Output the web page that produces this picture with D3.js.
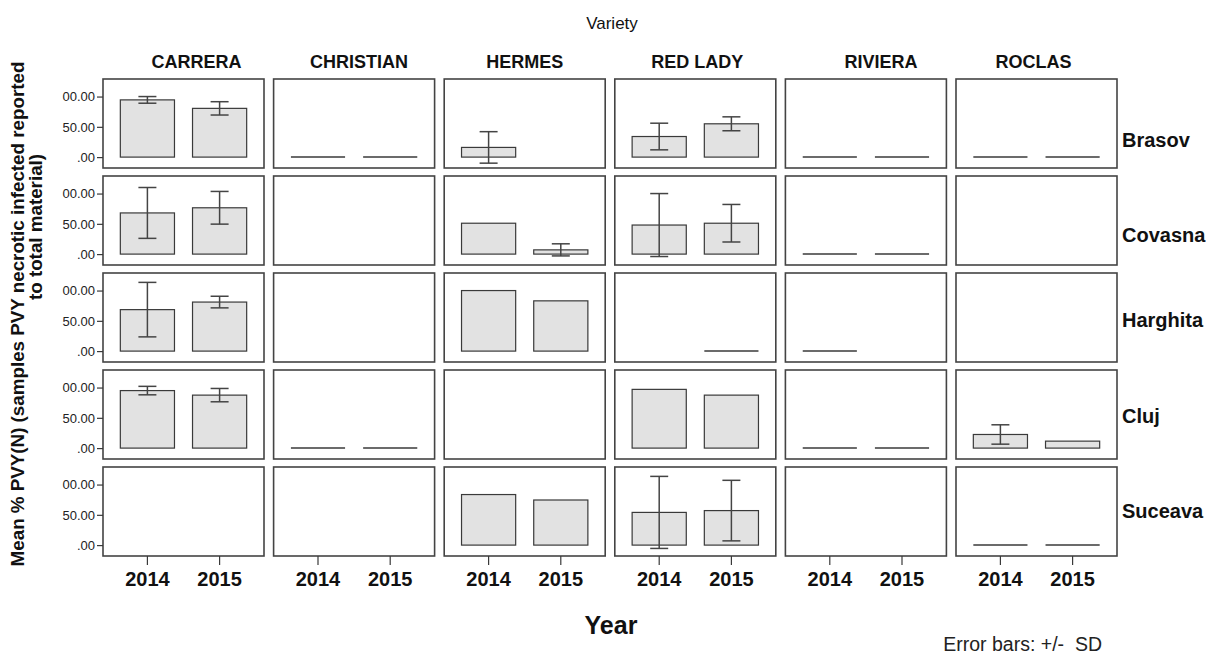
<!DOCTYPE html>
<html>
<head>
<meta charset="utf-8">
<script src="https://cdn.jsdelivr.net/npm/d3@7"></script>
<style>
  html, body { margin: 0; padding: 0; background: #fff; }
  svg { display: block; font-family: "Liberation Sans", Arial, sans-serif; }
</style>
</head>
<body>
<svg id="chart" width="1206" height="656"></svg>
<script>
// ---- data ----
const varieties = ["CARRERA", "CHRISTIAN", "HERMES", "RED LADY", "RIVIERA", "ROCLAS"];
const regions = ["Brasov", "Covasna", "Harghita", "Cluj", "Suceava"];
const years = ["2014", "2015"];
const yTicks = [0, 50, 100];
const yTickLabels = [".00", "50.00", "00.00"];

// mean values per region (rows) x variety (columns); null = no data
const mean2014 = [
  [94.5, 0, 16, 34, 0, 0],
  [68, null, 51, 48, 0, null],
  [68.5, null, 100, null, 0, null],
  [95, 0, null, 97, 0, 22.5],
  [null, null, 83.5, 54, null, 0]
];
const mean2015 = [
  [80.5, 0, null, 55, 0, 0],
  [76.5, null, 7, 51, 0, null],
  [81, null, 83, 0, null, null],
  [87.5, 0, null, 87.5, 0, 11.5],
  [null, null, 74.5, 57, null, 0]
];
// standard deviations; null = no error bar
const sd2014 = [
  [5.5, null, 26, 22, null, null],
  [42, null, null, 52, null, null],
  [45, null, null, null, null, null],
  [7, null, null, null, null, 16],
  [null, null, null, 59.5, null, null]
];
const sd2015 = [
  [11, null, null, 11.5, null, null],
  [27, null, 10, 31, null, null],
  [9.6, null, null, null, null, null],
  [11, null, null, null, null, null],
  [null, null, null, 50, null, null]
];

// ---- layout ----
const panelW = 161, panelH = 89;
const colLeft0 = 103, colPitch = 170.6;
const rowTop0 = 79, rowPitch = 97;
const rowLabelDy = [63, 61, 49, 48, 46];
const headerDx = [13, 5, 0, 2, 15, -3];
const means = {"2014": mean2014, "2015": mean2015};
const sds = {"2014": sd2014, "2015": sd2015};

const svg = d3.select("#chart");

const x = d3.scaleBand().domain(years).range([0, panelW]).paddingInner(0.25).paddingOuter(0.24);
const y = d3.scaleLinear().domain([-18, 129]).range([panelH, 0]);

const ink = "#3a3a3a";

regions.forEach((reg, r) => {
  varieties.forEach((v, c) => {
    const g = svg.append("g")
      .attr("transform", `translate(${colLeft0 + c * colPitch},${rowTop0 + r * rowPitch})`);
    g.append("rect")
      .attr("x", 0).attr("y", 0).attr("width", panelW).attr("height", panelH)
      .attr("fill", "#fff").attr("stroke", "#444").attr("stroke-width", 1.6);

    years.forEach(yr => {
      const m = means[yr][r][c];
      if (m === null) return;
      const bx = x(yr), bw = x.bandwidth();
      if (m === 0) {
        g.append("line")
          .attr("x1", bx).attr("x2", bx + bw)
          .attr("y1", y(0)).attr("y2", y(0))
          .attr("stroke", ink).attr("stroke-width", 1.5);
      } else {
        g.append("rect")
          .attr("x", bx).attr("width", bw)
          .attr("y", y(m)).attr("height", y(0) - y(m))
          .attr("fill", "#e2e2e2").attr("stroke", ink).attr("stroke-width", 1.2);
      }
      const s = sds[yr][r][c];
      if (s !== null) {
        const cx = bx + bw / 2, cap = 9;
        const eb = g.append("g").attr("stroke", "#444").attr("stroke-width", 1.5);
        eb.append("line").attr("x1", cx).attr("x2", cx).attr("y1", y(m + s)).attr("y2", y(m - s));
        eb.append("line").attr("x1", cx - cap).attr("x2", cx + cap).attr("y1", y(m + s)).attr("y2", y(m + s));
        eb.append("line").attr("x1", cx - cap).attr("x2", cx + cap).attr("y1", y(m - s)).attr("y2", y(m - s));
      }
    });

    if (c === 0) {
      const ax = g.append("g")
        .call(d3.axisLeft(y).tickValues(yTicks).tickFormat((d, i) => yTickLabels[i]).tickSize(6).tickPadding(2));
      ax.select(".domain").remove();
      ax.selectAll(".tick line").attr("stroke", ink).attr("stroke-width", 1.2);
      ax.selectAll(".tick text").attr("font-size", 13).attr("fill", "#222")
        .attr("font-family", "Liberation Sans, Arial, sans-serif");
    }
    if (r === regions.length - 1) {
      const ax = g.append("g").attr("transform", `translate(0,${panelH})`)
        .call(d3.axisBottom(x).tickSize(9).tickPadding(7));
      ax.select(".domain").remove();
      ax.selectAll(".tick line").attr("stroke", ink).attr("stroke-width", 1.2);
      ax.selectAll(".tick text").attr("font-size", 20).attr("font-weight", "bold").attr("fill", "#111")
        .attr("font-family", "Liberation Sans, Arial, sans-serif");
    }
    if (r === 0) {
      svg.append("text")
        .attr("x", colLeft0 + c * colPitch + panelW / 2 + headerDx[c]).attr("y", 63)
        .attr("text-anchor", "middle").attr("dominant-baseline", "middle")
        .attr("font-size", 18).attr("font-weight", "bold").attr("fill", "#111")
        .text(v);
    }
  });
  svg.append("text")
    .attr("x", colLeft0 + 5 * colPitch + panelW + 5)
    .attr("y", rowTop0 + r * rowPitch + rowLabelDy[r])
    .attr("dominant-baseline", "middle")
    .attr("font-size", 20).attr("font-weight", "bold").attr("fill", "#111")
    .text(reg);
});

svg.append("text").attr("x", 612).attr("y", 25)
  .attr("text-anchor", "middle").attr("dominant-baseline", "middle")
  .attr("font-size", 17).attr("fill", "#111").text("Variety");

svg.append("text").attr("x", 611).attr("y", 627)
  .attr("text-anchor", "middle").attr("dominant-baseline", "middle")
  .attr("font-size", 25).attr("font-weight", "bold").attr("fill", "#111").text("Year");

svg.append("text").attr("x", 1102).attr("y", 651)
  .attr("text-anchor", "end")
  .attr("font-size", 19.5).attr("fill", "#222").style("white-space", "pre")
  .text("Error bars: +/-  SD");

const yTitle = svg.append("g").attr("font-size", 18.8).attr("font-weight", "bold").attr("fill", "#111")
  .attr("text-anchor", "middle").attr("dominant-baseline", "middle");
yTitle.append("text").attr("transform", "translate(19,314) rotate(-90)")
  .text("Mean % PVY(N) (samples PVY necrotic infected reported");
yTitle.append("text").attr("transform", "translate(37,227) rotate(-90)")
  .text("to total material)");
</script>
</body>
</html>
